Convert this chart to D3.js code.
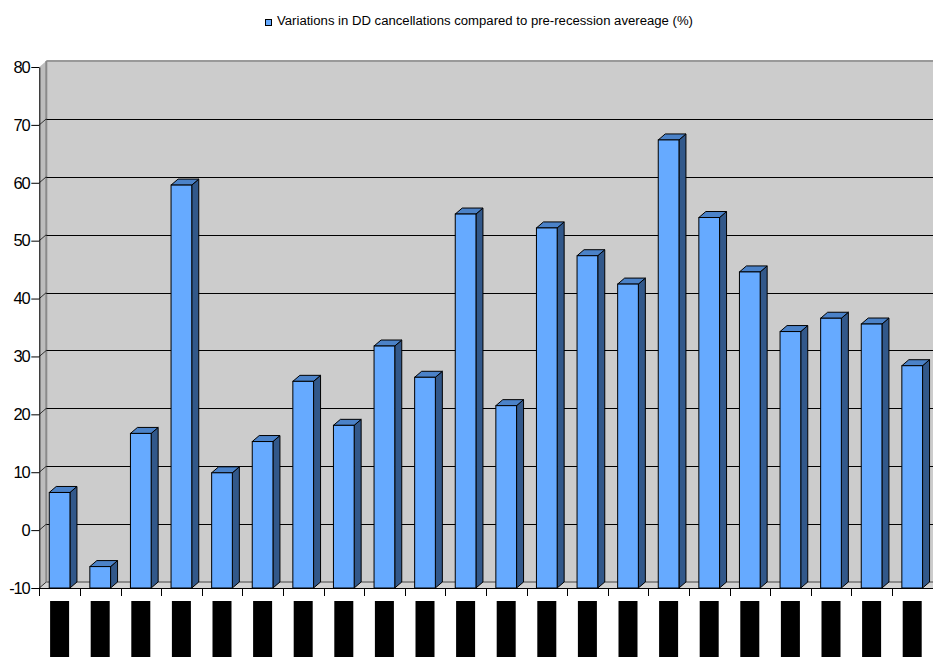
<!DOCTYPE html>
<html>
<head>
<meta charset="utf-8">
<script src="https://cdn.jsdelivr.net/npm/d3@7"></script>
<style>
  body { margin: 0; background: #fff; }
  text { font-family: "Liberation Sans", Arial, sans-serif; }
</style>
</head>
<body>
<svg id="drawing_region"></svg>
<script>
var width = 933;
var height = 657;

// one entry per column (labels are blacked out in the source)
const categories = ["c01","c02","c03","c04","c05","c06","c07","c08","c09","c10","c11",
                    "c12","c13","c14","c15","c16","c17","c18","c19","c20","c21","c22"];
const values = [6.5, -6.3, 16.7, 59.6, 9.9, 15.3, 25.7, 18.1, 31.8, 26.4, 54.6,
                21.5, 52.2, 47.4, 42.5, 67.4, 54.0, 44.6, 34.3, 36.6, 35.6, 28.4];
const yTicks = [-10, 0, 10, 20, 30, 40, 50, 60, 70, 80];
const seriesName = "Variations in DD cancellations compared to pre-recession avereage (%)";

const data = categories.map((c, i) => ({cat: c, v: values[i]}));

var svg = d3.select('#drawing_region')
      .attr('width', width)
      .attr('height', height);

const pLeft = 39.3, pRight = 932.5, pTop = 67, pBottom = 588;
const dx = 7, dy = -6;   // 3d depth offset

const x = d3.scaleBand()
      .domain(categories)
      .range([pLeft, pRight])
      .paddingInner(0.49)
      .paddingOuter(0.245);

const y = d3.scaleLinear()
      .domain([-10, 80])
      .range([pBottom, pTop]);

const y0 = y(-10);

// back wall
svg.append('rect')
      .attr('x', pLeft + dx).attr('y', pTop + dy)
      .attr('width', width - pLeft).attr('height', pBottom - pTop)
      .attr('fill', '#cccccc');

svg.append('line')
      .attr('x1', pLeft + dx).attr('x2', width)
      .attr('y1', pTop + dy).attr('y2', pTop + dy)
      .attr('stroke', '#999').attr('stroke-width', 2);

// left side wall
svg.append('polygon')
      .attr('points', [[pLeft, pTop], [pLeft + dx, pTop + dy], [pLeft + dx, pBottom + dy], [pLeft, pBottom]].join(' '))
      .attr('fill', '#bdbdbd');

svg.append('line')
      .attr('x1', pLeft + dx).attr('x2', pLeft + dx)
      .attr('y1', pTop + dy).attr('y2', pBottom + dy)
      .attr('stroke', '#8a8a8a').attr('stroke-width', 2);

// floor
svg.append('polygon')
      .attr('points', [[pLeft, pBottom], [pLeft + dx, pBottom + dy], [width + 10, pBottom + dy], [width + 10, pBottom]].join(' '))
      .attr('fill', '#d2d2d2');

svg.append('line')
      .attr('x1', pLeft + dx).attr('x2', width)
      .attr('y1', pBottom + dy).attr('y2', pBottom + dy)
      .attr('stroke', '#8a8a8a').attr('stroke-width', 2);

// gridlines on back wall + diagonal on side wall
const grid = yTicks.filter(t => t > -10 && t < 80);
svg.append('g').selectAll('line')
      .data(grid).enter().append('line')
      .attr('x1', pLeft + dx).attr('x2', width)
      .attr('y1', d => Math.round(y(d) + dy) + 0.5)
      .attr('y2', d => Math.round(y(d) + dy) + 0.5)
      .attr('stroke', '#000');

svg.append('g').selectAll('line')
      .data(yTicks.filter(t => t < 80)).enter().append('line')
      .attr('x1', pLeft).attr('x2', pLeft + dx)
      .attr('y1', d => y(d)).attr('y2', d => y(d) + dy)
      .attr('stroke', '#333');

// bars
const bw = x.bandwidth();
const bars = svg.append('g').selectAll('g')
      .data(data).enter().append('g');

bars.append('polygon')
      .attr('points', d => {
            const x1 = x(d.cat) + bw, yt = y(d.v);
            return [[x1, yt], [x1 + dx, yt + dy], [x1 + dx, y0 + dy], [x1, y0]].join(' ');
      })
      .attr('fill', '#32588a').attr('stroke', '#000').attr('stroke-width', 1);

bars.append('polygon')
      .attr('points', d => {
            const x0 = x(d.cat), yt = y(d.v);
            return [[x0, yt], [x0 + dx, yt + dy], [x0 + bw + dx, yt + dy], [x0 + bw, yt]].join(' ');
      })
      .attr('fill', '#4b82c8').attr('stroke', '#000').attr('stroke-width', 1);

bars.append('rect')
      .attr('x', d => x(d.cat))
      .attr('y', d => y(d.v))
      .attr('width', bw)
      .attr('height', d => y0 - y(d.v))
      .attr('fill', '#66aaff').attr('stroke', '#000').attr('stroke-width', 1);

// y axis
const yAxis = d3.axisLeft(y)
      .tickValues(yTicks)
      .tickFormat(d => String(d))
      .tickSize(8).tickSizeOuter(0).tickPadding(2);
const ya = svg.append('g')
      .attr('transform', `translate(${pLeft}, 0)`)
      .call(yAxis);
ya.select('.domain').attr('stroke', '#000');
ya.selectAll('text')
      .attr('font-size', 16.5)
      .attr('letter-spacing', -1.3)
      .attr('fill', '#000');

// x axis line + boundary ticks
svg.append('line')
      .attr('x1', pLeft).attr('x2', width)
      .attr('y1', pBottom + 0.5).attr('y2', pBottom + 0.5)
      .attr('stroke', '#000');

const gap = (x.step() - bw) / 2;
svg.append('g').selectAll('line')
      .data(categories).enter().append('line')
      .attr('x1', d => Math.round(x(d) - gap) + 0.5)
      .attr('x2', d => Math.round(x(d) - gap) + 0.5)
      .attr('y1', pBottom).attr('y2', pBottom + 8)
      .attr('stroke', '#000');

// category labels (blacked out in the source)
svg.append('g').selectAll('rect')
      .data(categories).enter().append('rect')
      .attr('x', d => x(d) + bw / 2 - 9.5)
      .attr('y', 601)
      .attr('width', 19)
      .attr('height', height - 601)
      .attr('fill', '#000');

// legend
svg.append('rect')
      .attr('x', 265.5).attr('y', 19.5)
      .attr('width', 6).attr('height', 6)
      .attr('fill', '#66aaff').attr('stroke', '#000');

svg.append('text')
      .attr('x', 277).attr('y', 25)
      .attr('font-size', 12.5)
      .attr('textLength', 416)
      .attr('lengthAdjust', 'spacingAndGlyphs')
      .text(seriesName);
</script>
</body>
</html>
